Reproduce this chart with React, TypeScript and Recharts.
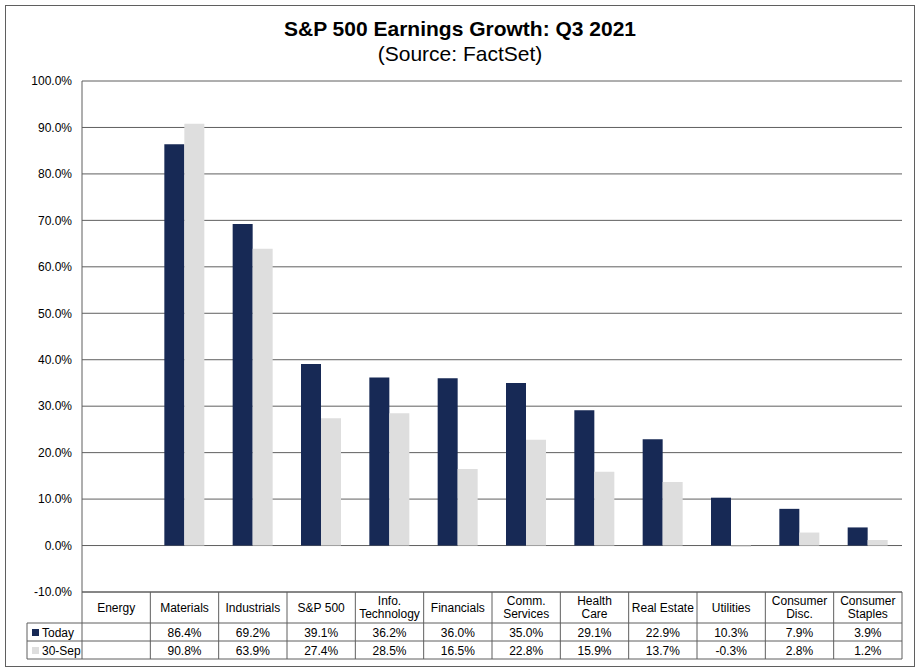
import React from "react";
import { BarChart, Bar, XAxis, YAxis, CartesianGrid } from "recharts";

const categories = [
  "Energy",
  "Materials",
  "Industrials",
  "S&P 500",
  "Info.\nTechnology",
  "Financials",
  "Comm.\nServices",
  "Health\nCare",
  "Real Estate",
  "Utilities",
  "Consumer\nDisc.",
  "Consumer\nStaples",
];
const today: (number | null)[] = [null, 86.4, 69.2, 39.1, 36.2, 36.0, 35.0, 29.1, 22.9, 10.3, 7.9, 3.9];
const sep30: (number | null)[] = [null, 90.8, 63.9, 27.4, 28.5, 16.5, 22.8, 15.9, 13.7, -0.3, 2.8, 1.2];
const seriesNames = ["Today", "30-Sep"];
const yTicks = [-10, 0, 10, 20, 30, 40, 50, 60, 70, 80, 90, 100];
const titleText = "S&P 500 Earnings Growth: Q3 2021";
const subtitleText = "(Source: FactSet)";

const NAVY = "#172955";
const GRAY = "#DEDEDE";
const LINE = "#5f5f5f";
const FONT = "'Liberation Sans', Arial, sans-serif";

const W = 920;
const H = 671;
const PLOT_L = 82;
const PLOT_R = 902;
const PLOT_T = 81;
const PLOT_B = 592;
const TABLE_L = 27;
const ROW1 = 623;
const ROW2 = 641;
const ROW3 = 659;

const data = categories.map((c, i) => ({ name: c, today: today[i], sep30: sep30[i] }));

const fmt = (v: number | null) => (v === null || v === undefined ? "" : `${v.toFixed(1)}%`);

const TableTick = (props: any) => {
  const { x, payload } = props;
  const i: number = payload && payload.index !== undefined ? payload.index : props.index;
  const band = (PLOT_R - PLOT_L) / categories.length;
  const left = x - band / 2;
  const lines = categories[i].split("\n");
  const headerMid = (PLOT_B + ROW1) / 2;
  const lineH = 13;
  const t = { fontSize: 12, fill: "#000", fontFamily: FONT, textAnchor: "middle" as const, dominantBaseline: "central" as const };
  return (
    <g>
      <line x1={left} x2={left} y1={PLOT_B} y2={ROW3} stroke={LINE} strokeWidth={1} />
      {i === categories.length - 1 && (
        <line x1={left + band} x2={left + band} y1={PLOT_B} y2={ROW3} stroke={LINE} strokeWidth={1} />
      )}
      {lines.map((l, k) => (
        <text key={k} x={x} y={headerMid + (k - (lines.length - 1) / 2) * lineH} {...t}>
          {l}
        </text>
      ))}
      <text x={x} y={(ROW1 + ROW2) / 2 + 0.5} {...t}>
        {fmt(today[i])}
      </text>
      <text x={x} y={(ROW2 + ROW3) / 2 + 0.5} {...t}>
        {fmt(sep30[i])}
      </text>
      {i === 0 && (
        <g>
          <line x1={TABLE_L} x2={PLOT_R} y1={ROW1} y2={ROW1} stroke={LINE} strokeWidth={1} />
          <line x1={TABLE_L} x2={PLOT_R} y1={ROW2} y2={ROW2} stroke={LINE} strokeWidth={1} />
          <line x1={TABLE_L} x2={PLOT_R} y1={ROW3} y2={ROW3} stroke={LINE} strokeWidth={1} />
          <line x1={TABLE_L} x2={TABLE_L} y1={ROW1} y2={ROW3} stroke={LINE} strokeWidth={1} />
          <rect x={32} y={(ROW1 + ROW2) / 2 - 3} width={7} height={7} fill={NAVY} />
          <text x={42} y={(ROW1 + ROW2) / 2 + 0.5} {...t} textAnchor="start">
            {seriesNames[0]}
          </text>
          <rect x={32} y={(ROW2 + ROW3) / 2 - 3} width={7} height={7} fill={GRAY} />
          <text x={42} y={(ROW2 + ROW3) / 2 + 0.5} {...t} textAnchor="start">
            {seriesNames[1]}
          </text>
        </g>
      )}
    </g>
  );
};

export default function App() {
  return (
    <div
      style={{
        position: "absolute",
        left: 0,
        top: 0,
        width: W,
        height: H,
        background: "#fff",
        fontFamily: FONT,
      }}
    >
      <div
        style={{
          position: "absolute",
          left: 5,
          top: 5,
          width: 910,
          height: 662,
          border: `1px solid ${LINE}`,
          boxSizing: "border-box",
        }}
      />
      <div
        style={{
          position: "absolute",
          left: 0,
          width: W,
          top: 17,
          textAlign: "center",
          fontSize: 21,
          fontWeight: "bold",
          color: "#000",
          lineHeight: "24px",
        }}
      >
        {titleText}
      </div>
      <div
        style={{
          position: "absolute",
          left: 0,
          width: W,
          top: 42,
          textAlign: "center",
          fontSize: 21,
          color: "#000",
          lineHeight: "24px",
        }}
      >
        {subtitleText}
      </div>
      <div style={{ position: "absolute", left: 0, top: 0 }}>
        <BarChart
          width={W}
          height={H}
          data={data}
          margin={{ top: PLOT_T, right: W - PLOT_R, left: 0, bottom: 12 }}
          barGap={0}
          barSize={20}
        >
          <CartesianGrid vertical={false} stroke={LINE} strokeWidth={1} />
          <XAxis
            dataKey="name"
            interval={0}
            height={H - 12 - PLOT_B}
            tickLine={false}
            tickSize={0}
            tickMargin={0}
            axisLine={{ stroke: LINE }}
            tick={<TableTick />}
          />
          <YAxis
            type="number"
            domain={[-10, 100]}
            ticks={yTicks}
            interval={0}
            width={PLOT_L}
            tickLine={false}
            tickSize={0}
            tickMargin={10}
            axisLine={{ stroke: LINE }}
            tick={{ fill: "#000", fontSize: 12, fontFamily: FONT }}
            tickFormatter={(v: number) => `${v.toFixed(1)}%`}
          />
          <Bar dataKey="today" name={seriesNames[0]} fill={NAVY} isAnimationActive={false} />
          <Bar dataKey="sep30" name={seriesNames[1]} fill={GRAY} isAnimationActive={false} />
        </BarChart>
      </div>
    </div>
  );
}
